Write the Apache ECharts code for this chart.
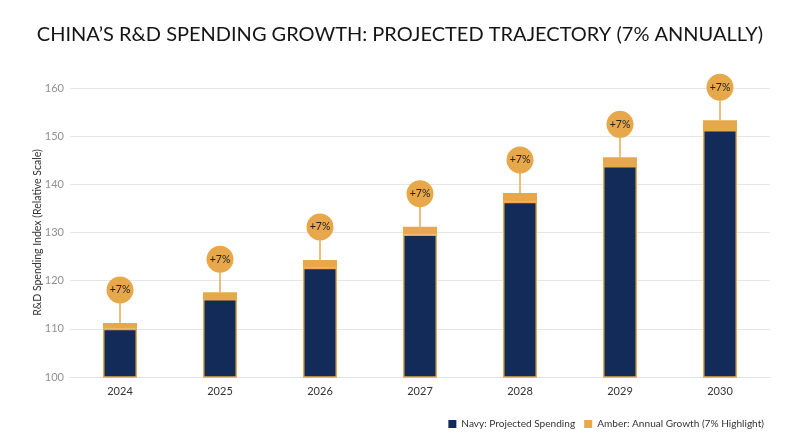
<!DOCTYPE html>
<html>
<head>
<meta charset="utf-8">
<script src="https://cdn.jsdelivr.net/npm/echarts@6/dist/echarts.min.js"></script>
<style>
html,body{margin:0;padding:0;background:#fff;}
#chart{width:800px;height:447px;}
</style>
</head>
<body>
<div id="chart"></div>
<script>
var years = ['2024','2025','2026','2027','2028','2029','2030'];
var projectedSpending = [110.0, 116.2, 122.7, 129.6, 136.4, 143.8, 151.3];
var growthHighlight = [1.2, 1.4, 1.6, 1.6, 1.8, 1.8, 2.0];
var growthLabels = ['+7%','+7%','+7%','+7%','+7%','+7%','+7%'];
var yTicks = [100, 110, 120, 130, 140, 150, 160];

var NAVY = '#122b59';
var AMBER = '#e6a84a';
var FONT = 'Lato, "Open Sans", sans-serif';

var bubbleData = years.map(function (y, i) {
  return [i, projectedSpending[i] + growthHighlight[i], growthLabels[i]];
});

var chart = echarts.init(document.getElementById('chart'));
chart.setOption({
  backgroundColor: '#ffffff',
  animation: false,
  textStyle: { fontFamily: FONT },
  title: {
    text: 'CHINA\u2019S R&D SPENDING GROWTH: PROJECTED TRAJECTORY (7% ANNUALLY)',
    left: 'center',
    top: 20,
    textStyle: { fontFamily: FONT, fontSize: 20, fontWeight: 'normal', color: '#151515' }
  },
  legend: {
    right: 31,
    top: 414,
    itemWidth: 8,
    itemHeight: 8,
    itemGap: 9,
    icon: 'rect',
    textStyle: { fontFamily: FONT, fontSize: 10.1, color: '#333' },
    data: [
      { name: 'Navy: Projected Spending', itemStyle: { color: NAVY, borderWidth: 0 } },
      { name: 'Amber: Annual Growth (7% Highlight)', itemStyle: { color: AMBER, borderWidth: 0 } }
    ]
  },
  grid: { left: 70, right: 30, top: 88, bottom: 70 },
  xAxis: {
    type: 'category',
    data: years,
    axisLine: { show: true, lineStyle: { color: '#e3e3e3' } },
    axisTick: { show: false },
    axisLabel: { color: '#333', fontSize: 11, margin: 9, fontFamily: FONT }
  },
  yAxis: {
    type: 'value',
    min: yTicks[0],
    max: yTicks[yTicks.length - 1],
    interval: 10,
    name: 'R&D Spending Index (Relative Scale)',
    nameLocation: 'middle',
    nameGap: 27,
    nameMoveOverlap: false,
    nameTextStyle: { color: '#333', fontSize: 10.5, fontFamily: FONT },
    axisLine: { show: false },
    axisTick: { show: false },
    axisLabel: { color: '#909090', fontSize: 11, margin: 6, fontFamily: FONT },
    splitLine: { lineStyle: { color: '#e6e6e6', width: 1 } }
  },
  series: [
    {
      name: 'Navy: Projected Spending',
      type: 'bar',
      stack: 'total',
      barWidth: 34,
      data: projectedSpending,
      itemStyle: { color: NAVY, borderColor: AMBER, borderWidth: 1.5 }
    },
    {
      name: 'Amber: Annual Growth (7% Highlight)',
      type: 'bar',
      stack: 'total',
      barWidth: 34,
      data: growthHighlight,
      itemStyle: { color: AMBER }
    },
    {
      type: 'custom',
      clip: false,
      silent: true,
      data: bubbleData,
      z: 5,
      renderItem: function (params, api) {
        var p = api.coord([api.value(0), api.value(1)]);
        var cy = p[1] - 33;
        return {
          type: 'group',
          children: [
            { type: 'line', shape: { x1: p[0], y1: p[1], x2: p[0], y2: cy + 13 },
              style: { stroke: AMBER, lineWidth: 1.5 } },
            { type: 'circle', shape: { cx: p[0], cy: cy, r: 13.5 },
              style: { fill: AMBER } },
            { type: 'text', x: p[0], y: cy,
              style: { text: growthLabels[params.dataIndex], fill: '#222', font: '10.5px ' + FONT,
                       align: 'center', verticalAlign: 'middle' } }
          ]
        };
      }
    }
  ]
});
</script>
</body>
</html>
